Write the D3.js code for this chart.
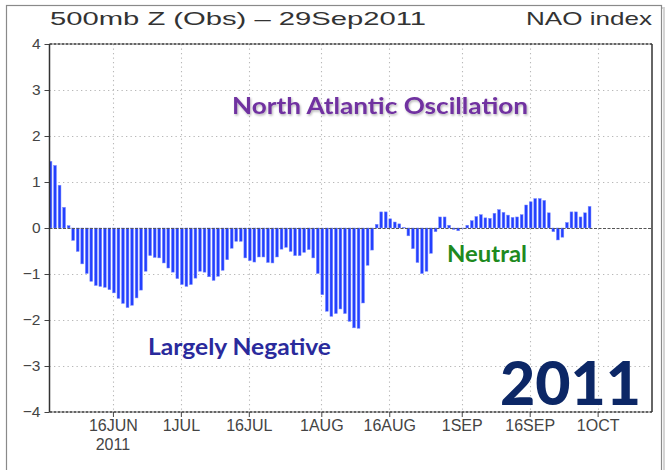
<!DOCTYPE html>
<html>
<head>
<meta charset="utf-8">
<script src="https://cdn.jsdelivr.net/npm/d3@7"></script>
<style>
  body { margin: 0; background: #fff; }
  svg { display: block; }
</style>
</head>
<body>
<svg width="670" height="470"></svg>
<script>
//  data: daily NAO index, first value is 2 Jun 2011, last is 29 Sep 2011
var startDate = new Date(2011, 5, 2);
var naoValues = [
  1.45, 1.36, 0.93, 0.45, 0.05, -0.27, -0.51, -0.78, -0.99, -1.16,
  -1.25, -1.27, -1.29, -1.34, -1.41, -1.53, -1.64, -1.73, -1.68, -1.52,
  -1.35, -0.94, -0.60, -0.64, -0.65, -0.76, -0.87, -0.96, -1.10, -1.23,
  -1.27, -1.23, -1.09, -0.94, -0.96, -1.06, -1.14, -1.05, -0.92, -0.69,
  -0.44, -0.29, -0.29, -0.65, -0.71, -0.74, -0.63, -0.63, -0.75, -0.76,
  -0.63, -0.46, -0.42, -0.51, -0.60, -0.60, -0.53, -0.47, -0.65, -0.99,
  -1.45, -1.81, -1.92, -1.86, -1.76, -1.86, -2.03, -2.17, -2.18, -1.63,
  -0.81, -0.48, 0.08, 0.35, 0.35, 0.20, 0.13, 0.09, 0.01, -0.17,
  -0.45, -0.75, -0.99, -0.94, -0.55, -0.08, 0.24, 0.24, 0.06, -0.03,
  -0.06, -0.01, 0.06, 0.16, 0.25, 0.29, 0.22, 0.21, 0.32, 0.40,
  0.34, 0.28, 0.23, 0.24, 0.29, 0.50, 0.57, 0.64, 0.64, 0.60,
  0.33, -0.08, -0.26, -0.20, 0.12, 0.35, 0.35, 0.24, 0.33, 0.47
];

//  axis ticks
var xTickDates = [
  new Date(2011, 5, 16), new Date(2011, 6, 1), new Date(2011, 6, 16), new Date(2011, 7, 1),
  new Date(2011, 7, 16), new Date(2011, 8, 1), new Date(2011, 8, 16), new Date(2011, 9, 1)
];
var xTickLabels = ["16JUN", "1JUL", "16JUL", "1AUG", "16AUG", "1SEP", "16SEP", "1OCT"];
var yTicks = [-4, -3, -2, -1, 0, 1, 2, 3, 4];

//  texts
var titleLeft = "500mb Z (Obs) \u2013 29Sep2011";
var titleRight = "NAO index";

var data = naoValues.map(function(v, i) {
  return { date: d3.timeDay.offset(startDate, i), value: v };
});

var svg = d3.select("svg");
var plotLeft = 49.5, plotRight = 652, plotTop = 44, plotBottom = 412;

var x = d3.scaleTime()
  .domain([startDate, new Date(2011, 9, 13)])
  .range([plotLeft, plotRight]);
var y = d3.scaleLinear()
  .domain([-4, 4])
  .range([plotBottom, plotTop]);

var dayW = x(d3.timeDay.offset(startDate, 1)) - x(startDate);
var barW = dayW * 0.62;

//  outer frame
svg.append("rect")
  .attr("x", 9).attr("y", 8).attr("width", 655).attr("height", 470)
  .attr("fill", "none").attr("stroke", "#d4d4d4").attr("stroke-width", 2);
svg.append("rect")
  .attr("x", 6.5).attr("y", 5.5).attr("width", 655).attr("height", 470)
  .attr("fill", "#fff").attr("stroke", "#8a8a8a").attr("stroke-width", 1.2);

var defs = svg.append("defs");
defs.append("clipPath").attr("id", "plotclip")
  .append("rect").attr("x", plotLeft).attr("y", plotTop)
  .attr("width", plotRight - plotLeft).attr("height", plotBottom - plotTop);

//  grid
var grid = svg.append("g").attr("stroke", "#b8b8b8").attr("stroke-width", 1.1)
  .attr("stroke-dasharray", "1.3,3.2");
grid.selectAll(".hg").data(yTicks.filter(function(d) { return d != 0 && Math.abs(d) != 4; }))
  .enter().append("line")
    .attr("x1", plotLeft).attr("x2", plotRight)
    .attr("y1", function(d) { return Math.round(y(d)) + 0.5; })
    .attr("y2", function(d) { return Math.round(y(d)) + 0.5; });
grid.selectAll(".vg").data(xTickDates)
  .enter().append("line")
    .attr("x1", function(d) { return Math.round(x(d)) + 0.5; })
    .attr("x2", function(d) { return Math.round(x(d)) + 0.5; })
    .attr("y1", plotTop).attr("y2", plotBottom);

//  bars
svg.append("g").attr("clip-path", "url(#plotclip)")
  .selectAll("rect").data(data)
  .enter().append("rect")
    .attr("x", function(d) { return x(d.date) - barW / 2 + 1; })
    .attr("width", barW)
    .attr("y", function(d) { return Math.min(y(d.value), y(0)); })
    .attr("height", function(d) { return Math.abs(y(d.value) - y(0)); })
    .attr("fill", "#2340ff")
    .attr("stroke", "#7d8cff")
    .attr("stroke-width", 0.5);

//  zero line
svg.append("line")
  .attr("x1", plotLeft).attr("x2", plotRight)
  .attr("y1", Math.round(y(0)) + 0.5).attr("y2", Math.round(y(0)) + 0.5)
  .attr("stroke", "#555").attr("stroke-width", 1)
  .attr("stroke-dasharray", "3,1.5");

//  axes with d3 axis generators
var yAxis = d3.axisLeft(y).tickValues(yTicks).tickSize(5).tickPadding(4)
  .tickFormat(function(d) { return d < 0 ? "\u2212" + Math.abs(d) : d; });
var gy = svg.append("g").attr("transform", "translate(" + plotLeft + ",0)").call(yAxis);
gy.select(".domain").remove();
gy.selectAll("line").attr("stroke", "#444");
gy.selectAll("text").attr("font-family", "Liberation Sans, Arial, sans-serif")
  .attr("font-size", 15.5).attr("fill", "#444");

var xAxis = d3.axisBottom(x).tickValues(xTickDates).tickSize(5).tickPadding(3)
  .tickFormat(function(d, i) { return xTickLabels[i]; });
var gx = svg.append("g").attr("transform", "translate(0," + plotBottom + ")").call(xAxis);
gx.select(".domain").remove();
gx.selectAll("line").attr("stroke", "#444");
gx.selectAll("text").attr("font-family", "Liberation Sans, Arial, sans-serif")
  .attr("font-size", 16).attr("fill", "#444");
svg.append("text")
  .attr("x", x(xTickDates[0])).attr("y", 450)
  .attr("text-anchor", "middle")
  .attr("font-family", "Liberation Sans, Arial, sans-serif")
  .attr("font-size", 16).attr("fill", "#444")
  .text("2011");

//  plot frame: dashed top and bottom, solid sides
var frame = svg.append("g").attr("stroke", "#333");
frame.append("line").attr("x1", plotLeft).attr("x2", plotRight).attr("y1", plotTop).attr("y2", plotTop)
  .attr("stroke-dasharray", "3,1").attr("stroke-width", 1.3);
frame.append("line").attr("x1", plotLeft).attr("x2", plotRight).attr("y1", plotBottom).attr("y2", plotBottom)
  .attr("stroke-dasharray", "3,1").attr("stroke-width", 1.3);
frame.append("line").attr("x1", plotLeft).attr("x2", plotLeft).attr("y1", plotTop).attr("y2", plotBottom)
  .attr("stroke-width", 1.5);
frame.append("line").attr("x1", plotRight).attr("x2", plotRight).attr("y1", plotTop).attr("y2", plotBottom)
  .attr("stroke-width", 1.5);

//  titles
svg.append("text")
  .attr("x", 50).attr("y", 25)
  .attr("font-family", "Liberation Sans, Arial, sans-serif")
  .attr("font-size", 19).attr("fill", "#333")
  .attr("textLength", 376).attr("lengthAdjust", "spacingAndGlyphs")
  .text(titleLeft);
svg.append("text")
  .attr("x", 526).attr("y", 25)
  .attr("font-family", "Liberation Sans, Arial, sans-serif")
  .attr("font-size", 19).attr("fill", "#333")
  .attr("textLength", 126).attr("lengthAdjust", "spacingAndGlyphs")
  .text(titleRight);

//  annotations
var shadow = defs.append("filter").attr("id", "shadow")
  .attr("x", "-5%").attr("y", "-20%").attr("width", "110%").attr("height", "150%");
shadow.append("feDropShadow").attr("dx", 1).attr("dy", 1.5).attr("stdDeviation", 1)
  .attr("flood-color", "#000").attr("flood-opacity", 0.3);

function note(txt, xPos, yPos, size, len, color) {
  return svg.append("text")
    .attr("x", xPos).attr("y", yPos)
    .attr("font-family", "Lato, Open Sans, sans-serif")
    .attr("font-weight", "bold")
    .attr("font-size", size).attr("fill", color)
    .attr("textLength", len).attr("lengthAdjust", "spacingAndGlyphs")
    .text(txt);
}
note("North Atlantic Oscillation", 232, 114, 23, 296, "#7030a0").attr("filter", "url(#shadow)");
note("Largely Negative", 148, 355, 22, 183, "#2a2a9c");
note("Neutral", 447, 262, 22, 80, "#1e8a1e");
note("2011", 500, 405, 60, 141, "#0c2766").attr("font-weight", 900);
</script>
</body>
</html>
